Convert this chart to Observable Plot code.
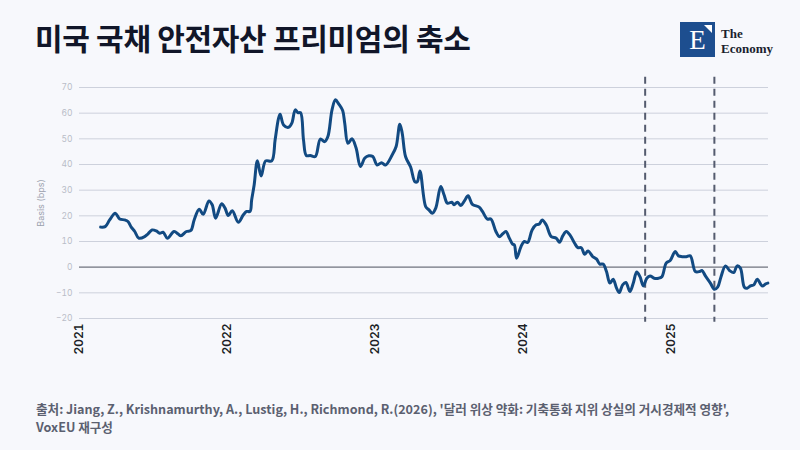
<!DOCTYPE html>
<html>
<head>
<meta charset="utf-8">
<script src="https://cdn.jsdelivr.net/npm/d3@7"></script>
<script src="https://cdn.jsdelivr.net/npm/@observablehq/plot@0.6"></script>
<style>
  html, body { margin: 0; padding: 0; background: #f7f8fc; }
  #wrap { position: relative; width: 800px; height: 450px; overflow: hidden; font-family: "Noto Sans CJK KR", "Noto Sans", sans-serif; }
  #title { position: absolute; left: 35px; top: 15px; font-size: 30px; font-weight: 700; color: #111629; letter-spacing: -0.3px; white-space: nowrap; }
  #logo { position: absolute; left: 680px; top: 22px; width: 35px; height: 35px; background: #1d4e8f; }
  #logo .e { position: absolute; left: 0; top: 0; width: 35px; height: 35px; line-height: 36px; text-align: center; color: #fff; font-family: "Liberation Serif", "DejaVu Serif", serif; font-size: 27px; }
  #logo .tri { position: absolute; right: 3px; top: 3px; width: 0; height: 0; border-left: 8px solid transparent; border-top: 8px solid #fff; }
  #logoText { position: absolute; left: 721px; top: 26px; font-family: "Liberation Serif", "DejaVu Serif", serif; font-weight: 700; font-size: 13px; line-height: 15px; color: #1a1f2e; }
  #plot { position: absolute; left: 0; top: 0; }
  #caption { position: absolute; left: 36px; top: 400px; font-size: 12.6px; line-height: 18px; color: #5b6070; font-weight: 600; white-space: nowrap; }
</style>
</head>
<body>
<div id="wrap">
  <div id="title">미국 국채 안전자산 프리미엄의 축소</div>
  <div id="logo"><div class="e">E</div><div class="tri"></div></div>
  <div id="logoText">The<br>Economy</div>
  <div id="plot"></div>
  <div id="caption">출처: Jiang, Z., Krishnamurthy, A., Lustig, H., Richmond, R.(2026), '달러 위상 약화: 기축통화 지위 상실의 거시경제적 영향',<br>VoxEU 재구성</div>
</div>
<script>
// Time position as decimal year
const years = [
  2021.143, 2021.174, 2021.204, 2021.242, 2021.272, 2021.306, 2021.328, 2021.350, 2021.374, 2021.401,
  2021.441, 2021.464, 2021.491, 2021.520, 2021.543, 2021.566, 2021.595, 2021.640, 2021.668, 2021.686,
  2021.724, 2021.754, 2021.776, 2021.810, 2021.837, 2021.876, 2021.898, 2021.921, 2021.962, 2021.985,
  2022.007, 2022.034, 2022.075, 2022.109, 2022.131, 2022.154, 2022.165, 2022.182, 2022.204, 2022.229,
  2022.260, 2022.301, 2022.324, 2022.347, 2022.358, 2022.381, 2022.415, 2022.437, 2022.460, 2022.478,
  2022.496, 2022.516, 2022.535, 2022.562, 2022.596, 2022.630, 2022.659, 2022.681, 2022.709, 2022.732,
  2022.754, 2022.781, 2022.795, 2022.817, 2022.844, 2022.872, 2022.901, 2022.931, 2022.958, 2022.985,
  2023.014, 2023.044, 2023.071, 2023.116, 2023.143, 2023.168, 2023.184, 2023.207, 2023.241, 2023.270,
  2023.286, 2023.304, 2023.343, 2023.365, 2023.388, 2023.411, 2023.445, 2023.467, 2023.490, 2023.520,
  2023.535, 2023.557, 2023.581, 2023.603, 2023.630, 2023.659, 2023.705, 2023.727, 2023.761, 2023.784,
  2023.818, 2023.841, 2023.863, 2023.886, 2023.909, 2023.931, 2023.943, 2023.958, 2023.988, 2024.010,
  2024.033, 2024.063, 2024.090, 2024.112, 2024.131, 2024.158, 2024.192, 2024.226, 2024.248, 2024.271,
  2024.294, 2024.321, 2024.350, 2024.372, 2024.395, 2024.418, 2024.440, 2024.474, 2024.497, 2024.520,
  2024.542, 2024.565, 2024.588, 2024.610, 2024.633, 2024.651, 2024.674, 2024.696, 2024.723, 2024.746,
  2024.769, 2024.791, 2024.814, 2024.837, 2024.859, 2024.887, 2024.916, 2024.939, 2024.968, 2024.995,
  2025.029, 2025.051, 2025.075, 2025.104, 2025.131, 2025.165, 2025.194, 2025.210, 2025.233, 2025.267,
  2025.294, 2025.316, 2025.339, 2025.369, 2025.398, 2025.425, 2025.448, 2025.470, 2025.497, 2025.516,
  2025.538, 2025.561, 2025.584, 2025.618, 2025.641, 2025.656
];
// Basis (bps)
const basis = [
  15.6, 15.8, 18.4, 21.0, 18.8, 18.4, 17.8, 15.6, 13.9, 11.3,
  11.9, 13.0, 14.5, 14.1, 13.2, 13.6, 11.3, 13.9, 12.9, 12.2,
  13.9, 14.3, 18.4, 22.6, 20.6, 25.8, 24.3, 19.1, 24.7, 23.0,
  20.1, 22.0, 17.5, 20.4, 21.7, 21.7, 26.2, 32.0, 41.5, 35.5,
  41.4, 41.4, 49.6, 58.0, 59.6, 55.4, 54.5, 56.1, 61.3, 60.2,
  60.2, 49.6, 43.5, 43.5, 43.1, 49.9, 48.9, 50.9, 61.3, 65.2,
  63.6, 61.0, 56.1, 48.3, 50.0, 46.4, 39.2, 42.5, 43.4, 43.1,
  39.8, 40.7, 39.8, 43.7, 47.0, 55.7, 52.2, 43.0, 39.0, 33.3,
  33.3, 37.5, 23.6, 22.3, 21.0, 23.0, 31.4, 28.2, 24.9, 25.3,
  24.3, 25.3, 24.0, 25.6, 27.8, 24.5, 23.4, 21.7, 18.7, 18.8,
  13.9, 11.9, 12.9, 13.9, 11.3, 9.0, 8.7, 3.5, 8.0, 10.0,
  9.6, 14.5, 16.5, 16.8, 18.4, 16.5, 11.9, 11.3, 9.7, 12.3,
  13.9, 12.3, 9.3, 7.6, 7.6, 5.0, 6.3, 4.0, 3.2, 1.2,
  1.2, -1.7, -6.2, -4.7, -8.2, -9.9, -6.9, -6.0, -9.5, -6.2,
  -1.9, -3.7, -7.3, -4.3, -3.4, -4.3, -4.3, -3.7, 1.6, 2.6,
  6.1, 4.4, 4.1, 4.1, 4.4, -1.7, -1.7, -1.3, -3.4, -6.2,
  -8.6, -7.8, -3.7, 0.5, -1.4, -2.1, 0.5, -0.4, -7.8, -8.2,
  -7.3, -6.9, -4.7, -7.3, -6.5, -6.2
];
const eventYears = [2024.826, 2025.294];
const yTicks = [-20, -10, 0, 10, 20, 30, 40, 50, 60, 70];
const xTickYears = [2021, 2022, 2023, 2024, 2025];
const xStart = "2021-01-01", xEnd = "2025-08-30";

function toDate(y) {
  const yr = Math.floor(y);
  const a = Date.UTC(yr, 0, 1), b = Date.UTC(yr + 1, 0, 1);
  return new Date(a + (y - yr) * (b - a));
}
const data = years.map((y, i) => ({date: toDate(y), value: basis[i]}));
const events = eventYears.map(toDate);
const xTicks = xTickYears.map(y => new Date(Date.UTC(y, 0, 1)));

const chart = Plot.plot({
  width: 800,
  height: 370,
  marginTop: 87,
  marginBottom: 52,
  marginLeft: 79,
  marginRight: 32,
  style: {background: "transparent", fontFamily: "Inter, 'Noto Sans', sans-serif"},
  x: {type: "utc", domain: [new Date(xStart), new Date(xEnd)]},
  y: {domain: [-20, 70]},
  marks: [
    Plot.gridY(yTicks, {stroke: "#cdd1dc", strokeOpacity: 1, strokeWidth: 1}),
    Plot.ruleY([0], {stroke: "#7a7d86", strokeWidth: 1.2}),
    Plot.axisY(yTicks, {
      tickSize: 0, tickPadding: 7, fontSize: 8.5, fill: "#b9bdc8",
      label: "Basis (bps)", labelAnchor: "center", labelArrow: "none", labelOffset: 42
    }),
    Plot.axisX(xTicks, {
      tickSize: 0, tickPadding: 5, tickRotate: -90, tickFormat: d3.utcFormat("%Y"),
      fontSize: 12, fontWeight: 600, fill: "#1c1f26", label: null
    }),
    Plot.ruleX(events, {y1: 74, y2: -21.5, stroke: "#545b6e", strokeWidth: 2, strokeDasharray: "7,5", clip: false}),
    Plot.line(data, {x: "date", y: "value", stroke: "#124a82", strokeWidth: 3, curve: "catmull-rom"})
  ]
});
// style the y-axis label
chart.querySelectorAll("text").forEach(t => {
  if (t.textContent.trim() === "Basis (bps)") { t.setAttribute("fill", "#9ba1ad"); t.setAttribute("font-size", "9"); }
});
document.getElementById("plot").appendChild(chart);
</script>
</body>
</html>
